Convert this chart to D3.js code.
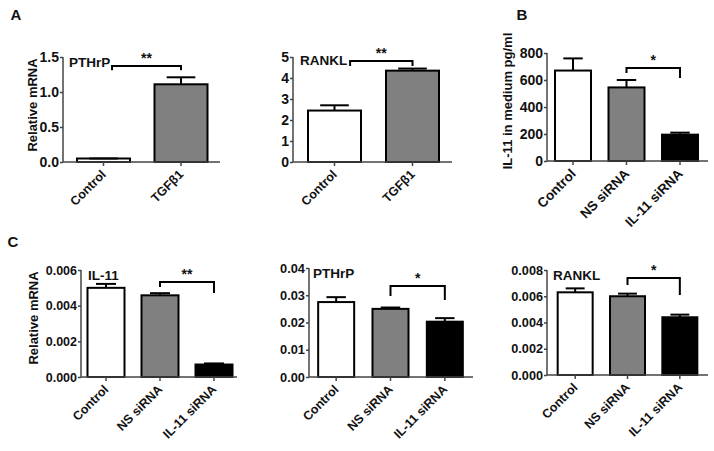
<!DOCTYPE html>
<html><head><meta charset="utf-8">
<script src="https://cdn.jsdelivr.net/npm/d3@7"></script>
<style>body{margin:0;background:#fff}svg{display:block}text{font-family:"Liberation Sans",Arial,sans-serif;font-weight:bold;fill:#111}</style>
</head><body>
<svg id="c" width="714" height="451"></svg>
<script>
// ---- data ----
const catsA = ["Control", "TGFβ1"];
const catsBC = ["Control", "NS siRNA", "IL-11 siRNA"];
const fills2 = ["#ffffff", "#808080"];
const fills3 = ["#ffffff", "#808080", "#000000"];

const pthrpA = [0.05, 1.11];
const pthrpAErr = [0.05, 1.21];
const ranklA = [2.45, 4.35];
const ranklAErr = [2.70, 4.45];
const il11B = [670, 545, 195];
const il11BErr = [760, 600, 210];
const il11C = [0.0050, 0.00458, 0.00070];
const il11CErr = [0.00522, 0.00470, 0.00076];
const pthrpC = [0.0275, 0.0250, 0.0203];
const pthrpCErr = [0.0293, 0.0255, 0.0216];
const ranklC = [0.0063, 0.0060, 0.0044];
const ranklCErr = [0.0066, 0.0062, 0.0046];

const ticksPthrpA = [0, 0.5, 1.0, 1.5];
const ticksRanklA = [0, 1, 2, 3, 4, 5];
const ticksB = [0, 200, 400, 600, 800];
const ticksIl11C = [0, 0.002, 0.004, 0.006];
const ticksPthrpC = [0, 0.01, 0.02, 0.03, 0.04];
const ticksRanklC = [0, 0.002, 0.004, 0.006, 0.008];

// ---- layout ----
const panels = [
  {cats: catsA, vals: pthrpA, errs: pthrpAErr, fills: fills2, ticks: ticksPthrpA, fmt: ".1f",
   ax: 63, axEnd: 220, band: [64.75, 219.75], bw: 53, y0: 162, y1: 57, max: 1.5, tfs: 14, xfs: 12.5,
   gene: "PTHrP", gx: 69, gy: 67, yTitle: "Relative mRNA", tx: 32, ty: 105,
   br: {a: 0, b: 1, aOff: 0.11, y: 1.37, la: 1.31, lb: 1.31, s: "**"}},
  {cats: catsA, vals: ranklA, errs: ranklAErr, fills: fills2, ticks: ticksRanklA, fmt: "d",
   ax: 293, axEnd: 452, band: [295.5, 451.5], bw: 53, y0: 162, y1: 57, max: 5, tfs: 14, xfs: 12.5,
   gene: "RANKL", gx: 300, gy: 65,
   br: {a: 0, b: 1, aOff: 0.2, y: 4.81, la: 4.57, lb: 4.57, s: "**"}},
  {cats: catsBC, vals: il11B, errs: il11BErr, fills: fills3, ticks: ticksB, fmt: "d",
   ax: 547, axEnd: 708, band: [546.25, 706.75], bw: 36, y0: 161, y1: 53, max: 800, tfs: 14, xfs: 13.5,
   yTitle: "IL-11 in medium pg/ml", tx: 507, ty: 101,
   br: {a: 1, b: 2, aOff: 0, y: 689, la: 652, lb: 615, s: "*"}},
  {cats: catsBC, vals: il11C, errs: il11CErr, fills: fills3, ticks: ticksIl11C, fmt: ".3f",
   ax: 81, axEnd: 237, band: [79, 241], bw: 37, y0: 377, y1: 270, max: 0.006, tfs: 12.5, xfs: 12.5,
   gene: "IL-11", gx: 88, gy: 280, yTitle: "Relative mRNA", tx: 33, ty: 318,
   br: {a: 1, b: 2, aOff: 0, y: 0.00533, la: 0.00505, lb: 0.00471, s: "**"}},
  {cats: catsBC, vals: pthrpC, errs: pthrpCErr, fills: fills3, ticks: ticksPthrpC, fmt: ".2f",
   ax: 309, axEnd: 473, band: [309, 472], bw: 36, y0: 377, y1: 268, max: 0.04, tfs: 12.8, xfs: 12.5,
   gene: "PTHrP", gx: 313, gy: 278,
   br: {a: 1, b: 2, aOff: 0, y: 0.0334, la: 0.0297, lb: 0.0283, s: "*"}},
  {cats: catsBC, vals: ranklC, errs: ranklCErr, fills: fills3, ticks: ticksRanklC, fmt: ".3f",
   ax: 547, axEnd: 708, band: [549, 706], bw: 35, y0: 375, y1: 270, max: 0.008, tfs: 12.7, xfs: 12.5,
   gene: "RANKL", gx: 553, gy: 280,
   br: {a: 1, b: 2, aOff: 0, y: 0.00739, la: 0.00686, lb: 0.0061, s: "*"}}
];

const svg = d3.select("#c");
const axisColor = "#444";
const FONT = '"Liberation Sans",Arial,sans-serif';

panels.forEach(p => {
  const x = d3.scaleBand().domain(p.cats).range(p.band).padding(0);
  const y = d3.scaleLinear().domain([0, p.max]).range([p.y0, p.y1]);
  const g = svg.append("g");
  const cx = c => x(c) + x.bandwidth() / 2;

  // bars
  g.selectAll("rect.bar").data(p.cats).enter().append("rect")
    .attr("x", c => cx(c) - p.bw / 2)
    .attr("width", p.bw)
    .attr("y", (c, i) => y(p.vals[i]))
    .attr("height", (c, i) => y(0) - y(p.vals[i]))
    .attr("fill", (c, i) => p.fills[i])
    .attr("stroke", "#000").attr("stroke-width", 2);

  // error bars (upper only)
  const eg = g.selectAll("g.err").data(p.cats).enter().append("g");
  eg.append("line")
    .attr("x1", c => cx(c)).attr("x2", c => cx(c))
    .attr("y1", (c, i) => y(p.vals[i])).attr("y2", (c, i) => y(p.errs[i]))
    .attr("stroke", "#000").attr("stroke-width", 2);
  eg.append("line")
    .attr("x1", c => cx(c) - p.bw * 0.27).attr("x2", c => cx(c) + p.bw * 0.27)
    .attr("y1", (c, i) => y(p.errs[i])).attr("y2", (c, i) => y(p.errs[i]))
    .attr("stroke", "#000").attr("stroke-width", 2);

  // y axis
  const yAxis = d3.axisLeft(y).tickValues(p.ticks).tickFormat(d3.format(p.fmt)).tickSize(3).tickPadding(1);
  const ya = g.append("g").attr("transform", `translate(${p.ax},0)`).call(yAxis)
    .attr("font-family", FONT).attr("font-size", p.tfs);
  ya.select(".domain").attr("stroke", axisColor).attr("stroke-width", 1.5).attr("d", `M0,${p.y0}V${p.y1}`);
  ya.selectAll(".tick line").attr("stroke", axisColor).attr("stroke-width", 1.5);
  ya.selectAll(".tick text").attr("fill", "#111").style("font-weight", "bold");

  // x axis
  const xa = g.append("g").attr("transform", `translate(0,${p.y0})`);
  xa.append("line").attr("x1", p.ax).attr("x2", p.axEnd).attr("y1", 0).attr("y2", 0)
    .attr("stroke", axisColor).attr("stroke-width", 1.5);
  xa.selectAll("line.t").data(p.cats).enter().append("line")
    .attr("x1", c => cx(c)).attr("x2", c => cx(c)).attr("y1", 0).attr("y2", 4)
    .attr("stroke", axisColor).attr("stroke-width", 1.5);
  xa.selectAll("text").data(p.cats).enter().append("text")
    .attr("transform", c => `translate(${cx(c) - 3},${7}) rotate(-45)`)
    .attr("text-anchor", "end").attr("dy", "0.7em").attr("font-size", p.xfs)
    .text(c => c);

  // gene label
  if (p.gene) g.append("text").attr("x", p.gx).attr("y", p.gy).attr("font-size", 13.5).text(p.gene);

  // y title
  if (p.yTitle) g.append("text").attr("transform", `translate(${p.tx},${p.ty}) rotate(-90)`)
    .attr("text-anchor", "middle").attr("dy", "0.35em").attr("font-size", 13).text(p.yTitle);

  // significance bracket
  const b = p.br;
  const xa1 = cx(p.cats[b.a]) + b.aOff * x.step(), xb1 = cx(p.cats[b.b]);
  g.append("path")
    .attr("d", `M${xa1},${y(b.la)}V${y(b.y)}H${xb1}V${y(b.lb)}`)
    .attr("fill", "none").attr("stroke", "#000").attr("stroke-width", 2);
  g.append("text").attr("x", (xa1 + xb1) / 2).attr("y", y(b.y) - 3)
    .attr("text-anchor", "middle").attr("font-size", 14).text(b.s);
});

// panel letters
const letters = ["A", "B", "C"];
const letterPos = [[16, 15], [522, 15], [13, 242]];
svg.selectAll("text.letter").data(letters).enter().append("text")
  .attr("x", (d, i) => letterPos[i][0]).attr("y", (d, i) => letterPos[i][1])
  .attr("text-anchor", "middle").attr("dy", "0.35em").attr("font-size", 15).text(d => d);
</script>
</body></html>
